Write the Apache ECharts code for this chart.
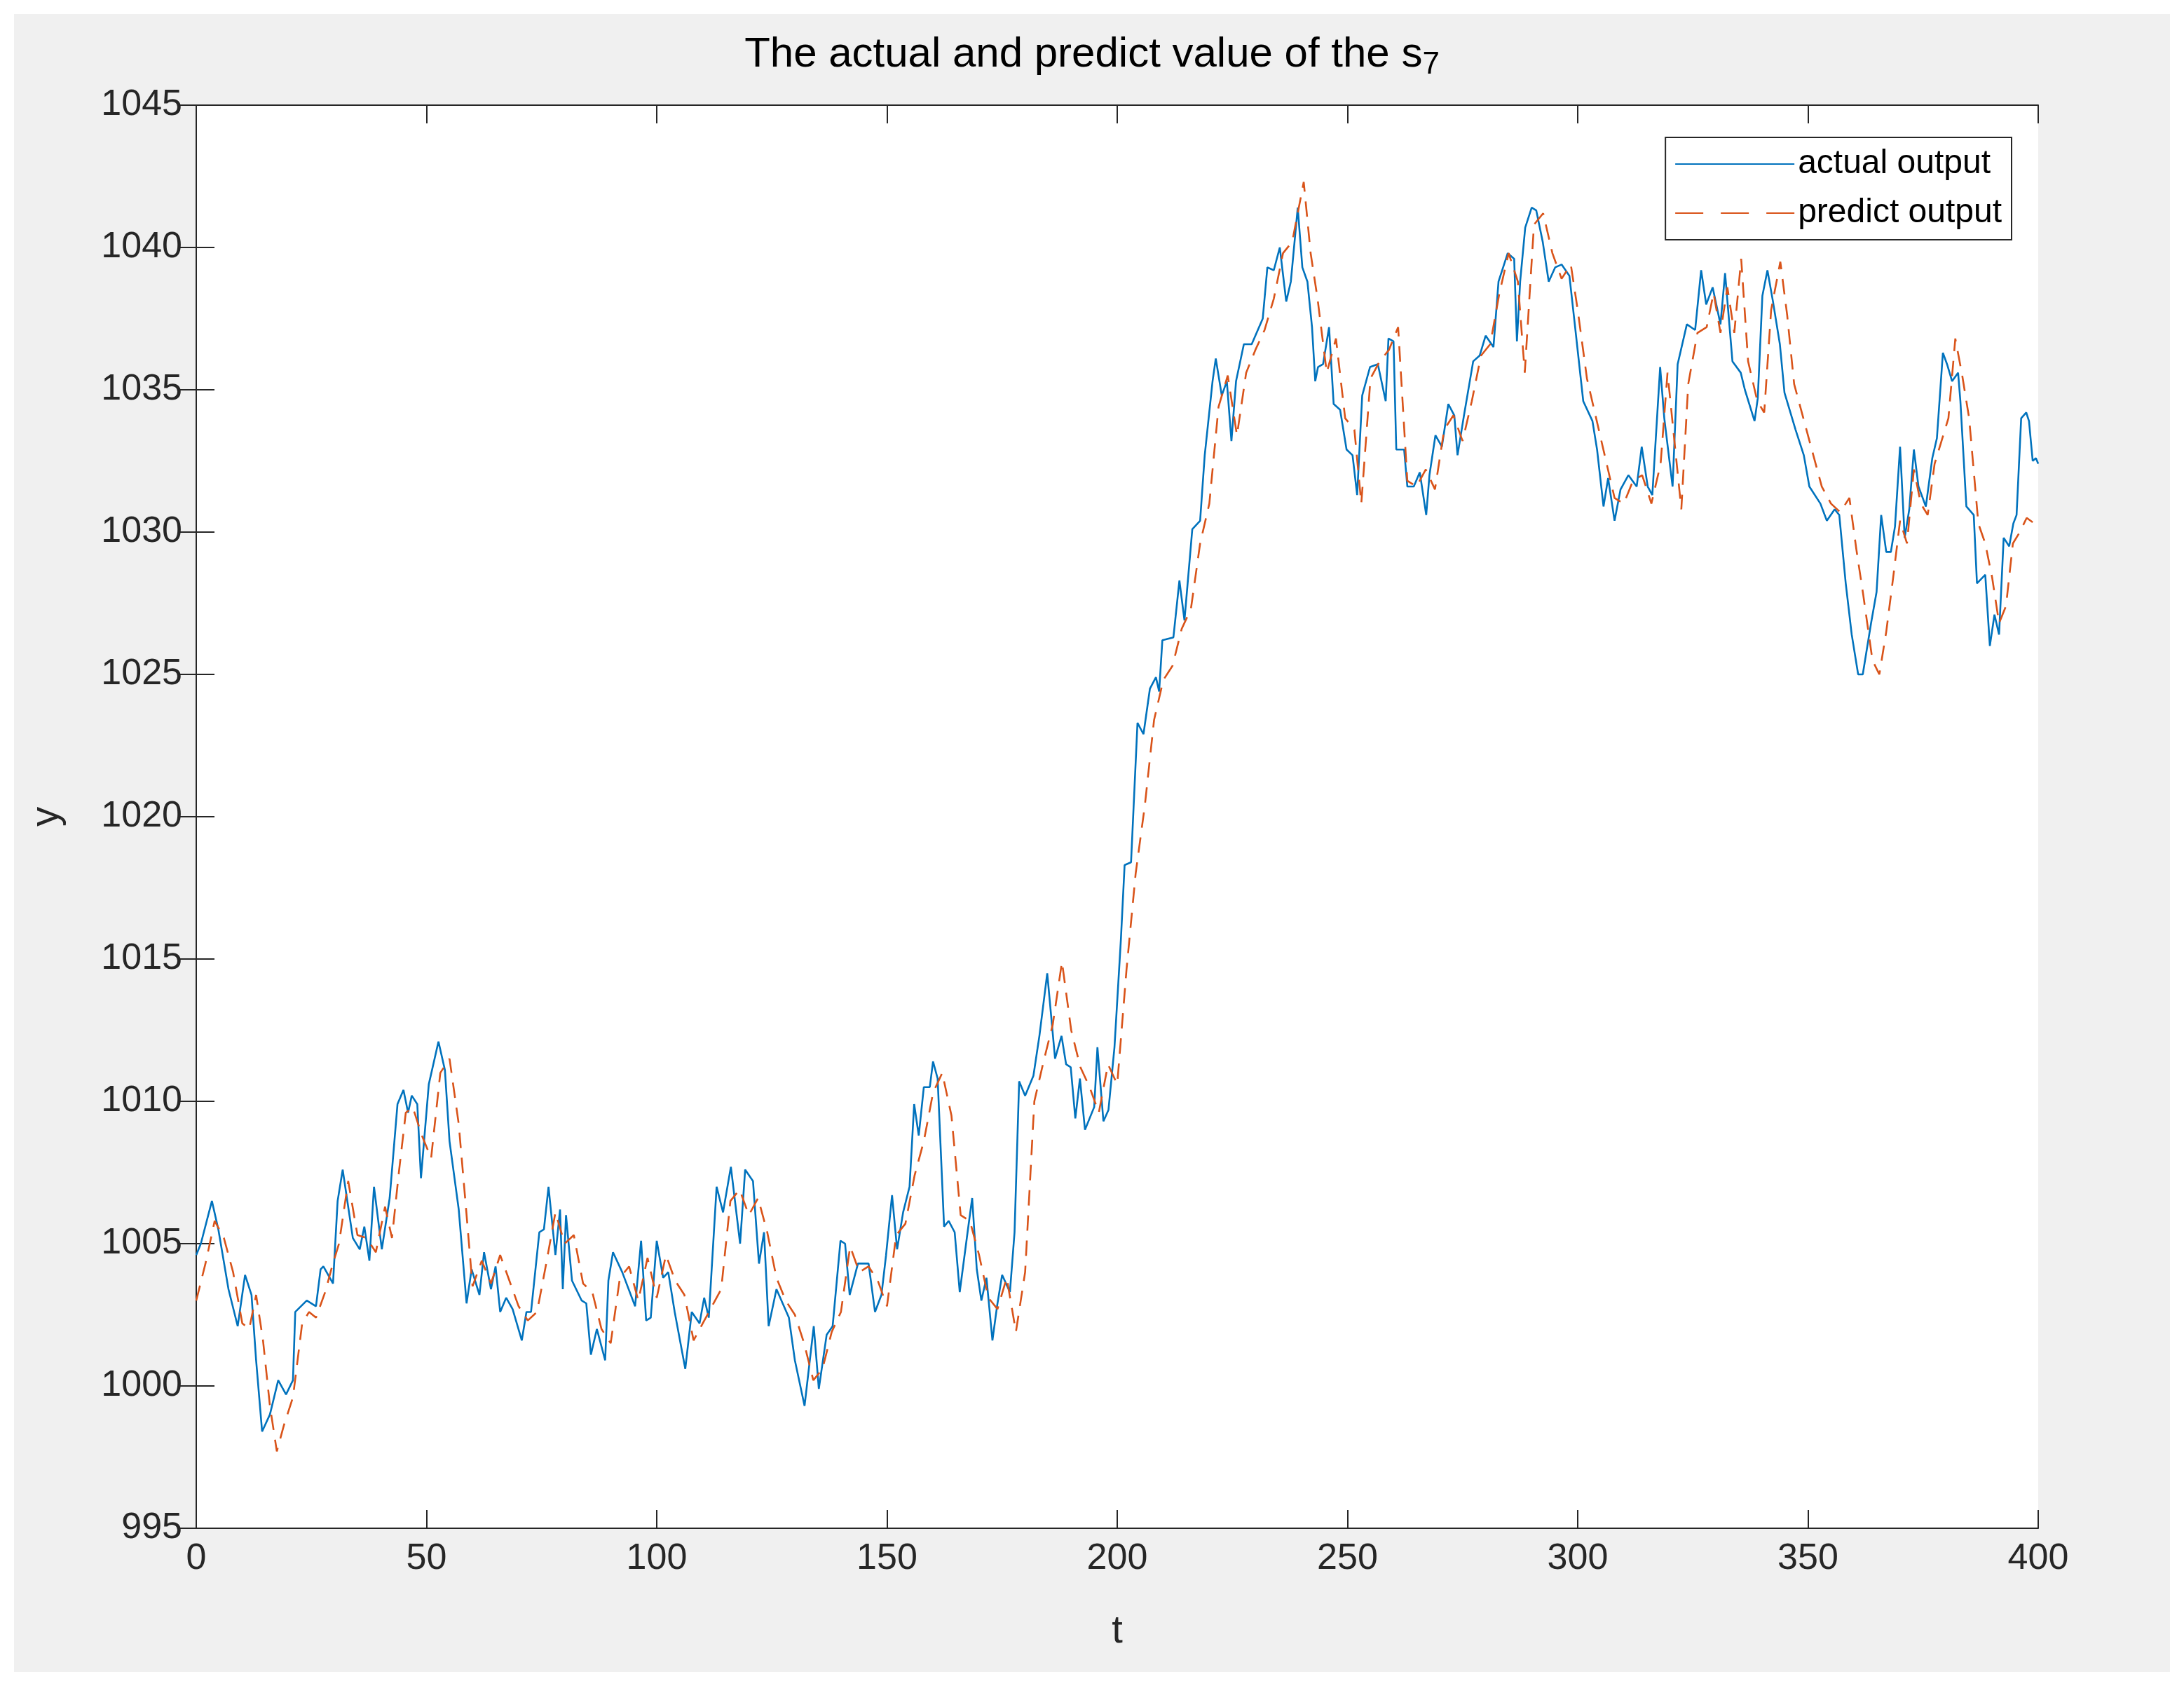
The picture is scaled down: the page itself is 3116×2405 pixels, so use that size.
<!DOCTYPE html>
<html>
<head>
<meta charset="utf-8">
<script src="https://cdn.jsdelivr.net/npm/echarts@6/dist/echarts.min.js"></script>
<style>
html, body { margin: 0; padding: 0; background: #ffffff; }
#chart { position: absolute; left: 20px; top: 20px; width: 3076px; height: 2365px; background: #f0f0f0; }
</style>
</head>
<body>
<div id="chart"></div>
<script>
var xTicks = [0, 50, 100, 150, 200, 250, 300, 350, 400];
var yTicks = [995, 1000, 1005, 1010, 1015, 1020, 1025, 1030, 1035, 1040, 1045];

// actual output (t, y)
var actualT = [0, 1, 3.4, 4.8, 7, 9, 10.6, 12, 13, 14.3, 16, 17.8, 19.5, 21, 21.5, 24, 26, 27, 27.6, 29.7,
    30.7, 31.8, 34, 35.5, 36.5, 37.6, 38.6, 40.3, 42, 43.7, 45, 46, 46.8, 48, 48.8, 50.5, 52.6, 54, 55, 57,
    58.7, 59.8, 61.5, 62.5, 64, 65, 66, 67.3, 68.7, 70.7, 71.7, 72.7, 74.5, 75.5, 76.5, 78, 79, 79.6, 80.3, 81.6,
    83.7, 84.7, 85.7, 87, 88.8, 89.5, 90.5, 92.5, 95.3, 96.6, 97.7, 98.7, 100, 101.4, 102.5, 103.9, 106.2, 107.6, 109.3, 110.3,
    111.3, 113, 114.4, 116.1, 118.1, 119.2, 120.9, 122.2, 123.3, 124.3, 126, 128.7, 130, 132.1, 134.1, 135.2, 136.9, 138.2, 139.9, 140.9,
    141.9, 143.7, 146, 147.4, 148.8, 149.8, 151.1, 152.2, 153.5, 154.9, 155.9, 156.9, 158, 159.3, 160, 161, 162.4, 163.4, 164.7, 165.8,
    167.5, 168.5, 169.5, 170.5, 171.6, 172.9, 173.9, 175, 176.7, 177.7, 178.7, 180, 181.8, 183.1, 184.8, 186.5, 187.9, 188.9, 189.9, 190.9,
    191.9, 193, 195, 195.7, 197, 198.1, 199.4, 200.8, 201.6, 203, 204.4, 205.7, 207.1, 208.4, 209.1, 209.8, 212.2, 213.5, 214.6, 216.3,
    218, 219, 220.7, 221.4, 222.7, 223.8, 224.8, 225.8, 227.5, 229.2, 231.6, 232.6, 234, 235.3, 236.7, 237.7, 239.2, 240.2, 241.3, 242.3,
    243, 243.6, 244.7, 246, 247, 248.4, 249.8, 251.1, 252.1, 253.2, 254.9, 256.6, 258.3, 258.9, 260, 260.6, 262.3, 263, 264.4, 265.7,
    267.1, 267.8, 269.1, 270.5, 271.9, 273.2, 273.9, 275.3, 277.3, 278.7, 280, 281.7, 282.8, 284.8, 286.2, 286.8, 287.5, 288.6, 290, 291,
    292.4, 293.7, 295.1, 296.5, 298.2, 299.3, 301.2, 303.2, 304.2, 305.6, 306.6, 308, 309.3, 311, 312.8, 313.9, 315.2, 316.2, 317.9, 318.8,
    320.6, 321.7, 323.7, 325.5, 326.8, 327.9, 329.3, 331, 332, 333.6, 335.4, 336.3, 338.4, 339.1, 340.1, 341.2, 342.4, 343.9, 344.9, 347.3,
    349.1, 350.3, 352.7, 354.1, 355.8, 356.8, 358.2, 359.5, 360.9, 361.9, 363.7, 364.9, 365.9, 367, 368, 368.9, 370, 371, 372, 373,
    374, 375.6, 377, 378, 379.3, 380.2, 381.3, 382.6, 383.1, 384.4, 386, 386.7, 388.5, 389.5, 390.5, 391.5, 392.5, 393.7, 394.6, 395.3,
    396.3, 397.4, 398, 398.8, 399.5, 400];
var actualY = [1004.6, 1005.0, 1006.5, 1005.5, 1003.4, 1002.1, 1003.9, 1003.2, 1000.9, 998.4, 999.0, 1000.2, 999.7, 1000.2, 1002.6, 1003.0, 1002.8, 1004.1, 1004.2, 1003.6,
    1006.5, 1007.6, 1005.2, 1004.8, 1005.6, 1004.4, 1007.0, 1004.8, 1006.6, 1009.9, 1010.4, 1009.6, 1010.2, 1009.9, 1007.3, 1010.6, 1012.1, 1011.1, 1008.6, 1006.2,
    1002.9, 1004.1, 1003.2, 1004.7, 1003.4, 1004.2, 1002.6, 1003.1, 1002.7, 1001.6, 1002.6, 1002.6, 1005.4, 1005.5, 1007.0, 1004.6, 1006.2, 1003.4, 1006.0, 1003.7,
    1003.0, 1002.9, 1001.1, 1002.0, 1000.9, 1003.7, 1004.7, 1004.0, 1002.8, 1005.1, 1002.3, 1002.4, 1005.1, 1003.8, 1004.0, 1002.6, 1000.6, 1002.6, 1002.2, 1003.1,
    1002.4, 1007.0, 1006.1, 1007.7, 1005.0, 1007.6, 1007.2, 1004.3, 1005.4, 1002.1, 1003.4, 1002.4, 1000.9, 999.3, 1002.1, 999.9, 1001.8, 1002.1, 1005.1, 1005.0,
    1003.2, 1004.3, 1004.3, 1002.6, 1003.2, 1004.6, 1006.7, 1004.8, 1006.1, 1007.0, 1009.9, 1008.8, 1010.5, 1010.5, 1011.4, 1010.8, 1005.6, 1005.8, 1005.4, 1003.3,
    1005.4, 1006.6, 1004.1, 1003.0, 1003.8, 1001.6, 1002.8, 1003.9, 1003.3, 1005.4, 1010.7, 1010.2, 1010.9, 1012.3, 1014.5, 1011.5, 1012.3, 1011.3, 1011.2, 1009.4,
    1010.8, 1009.0, 1009.8, 1011.9, 1009.3, 1009.7, 1011.9, 1015.7, 1018.3, 1018.4, 1023.3, 1022.9, 1024.5, 1024.9, 1024.4, 1026.2, 1026.3, 1028.3, 1026.9, 1030.1,
    1030.4, 1032.7, 1035.3, 1036.1, 1034.8, 1035.3, 1033.2, 1035.3, 1036.6, 1036.6, 1037.5, 1039.3, 1039.2, 1040.0, 1038.1, 1038.8, 1041.4, 1039.3, 1038.8, 1037.2,
    1035.3, 1035.8, 1035.9, 1037.2, 1034.5, 1034.3, 1032.9, 1032.7, 1031.3, 1034.8, 1035.8, 1035.9, 1034.6, 1036.8, 1036.7, 1032.9, 1032.9, 1031.6, 1031.6, 1032.1,
    1030.6, 1032.0, 1033.4, 1033.0, 1034.5, 1034.1, 1032.7, 1034.1, 1036.0, 1036.2, 1036.9, 1036.5, 1038.8, 1039.8, 1039.6, 1036.7, 1038.8, 1040.7, 1041.4, 1041.3,
    1040.2, 1038.8, 1039.3, 1039.4, 1039.0, 1037.4, 1034.6, 1033.9, 1032.9, 1030.9, 1031.9, 1030.4, 1031.5, 1032.0, 1031.6, 1033.0, 1031.6, 1031.3, 1035.8, 1034.0,
    1031.6, 1035.9, 1037.3, 1037.1, 1039.2, 1038.0, 1038.6, 1037.3, 1039.1, 1036.0, 1035.6, 1035.0, 1033.9, 1034.7, 1038.3, 1039.2, 1038.1, 1036.6, 1034.9, 1033.6,
    1032.7, 1031.6, 1031.0, 1030.4, 1030.8, 1030.6, 1028.2, 1026.4, 1025.0, 1025.0, 1026.8, 1027.9, 1030.6, 1029.3, 1029.3, 1030.2, 1033.0, 1029.8, 1030.8, 1032.9,
    1031.6, 1030.9, 1032.6, 1033.3, 1036.3, 1035.9, 1035.3, 1035.6, 1034.6, 1030.9, 1030.6, 1028.2, 1028.5, 1026.0, 1027.1, 1026.4, 1029.8, 1029.5, 1030.3, 1030.6,
    1034.0, 1034.2, 1033.9, 1032.5, 1032.6, 1032.4];

// predict output (t, y)
var predictT = [0, 2, 4, 6, 8, 10, 11.5, 13, 14.5, 16, 17.5, 19, 21, 23, 24.5, 26, 28, 29.5, 31, 33,
    35, 37, 39, 41, 42.5, 44, 45.5, 47, 49, 51, 53, 55, 57, 58.5, 60, 62, 64, 66, 68, 70,
    72, 74, 76, 78, 80, 82, 84, 86, 88, 90, 92, 94, 96, 98, 100, 102, 104, 106, 108, 110,
    112, 114, 116, 118, 120, 122, 124, 126, 128, 130, 132, 134, 136, 138, 140, 142, 144, 146, 148, 150,
    152, 154, 156, 158, 160, 162, 164, 166, 168, 170, 172, 174, 176, 178, 180, 182, 184, 186, 188, 190,
    192, 194, 196, 198, 200, 202, 204, 206, 208, 210, 212, 214, 216, 218, 220, 222, 224, 226, 228, 230,
    232, 234, 236, 238, 240.5, 242, 243.5, 245.5, 247.5, 249.5, 251.5, 253, 255, 257, 259, 261, 263, 265, 267, 269,
    271, 273, 275, 277, 279, 281, 283, 285, 287, 288.5, 290.5, 292.5, 294.5, 296.5, 298.5,
    300, 302, 304, 306, 308, 310, 312, 314, 316, 318, 319.5, 321, 322.5, 324, 326, 328, 329.5, 331, 332.5, 334,
    335.5, 337, 339, 340.5, 342, 344, 345.5, 347, 349, 351, 353, 355, 357, 359, 360.5, 362, 364, 365.5, 367, 368.5,
    370, 371.5, 373, 374.5, 376, 377.5, 379, 380.5, 382, 383.5, 385, 387, 388.5, 390, 391.5, 393, 394.5, 396, 397.5, 400];
var predictY = [1003.0, 1004.3, 1005.8, 1005.2, 1004.0, 1002.2, 1002.0, 1003.2, 1001.6, 999.3, 997.7, 998.6, 999.6, 1002.2, 1002.6, 1002.4, 1003.3, 1004.2, 1005.0, 1007.2,
    1005.3, 1005.2, 1004.7, 1006.3, 1005.2, 1007.5, 1009.6, 1009.8, 1008.8, 1008.0, 1011.0, 1011.5, 1009.2, 1006.4, 1003.5, 1004.4, 1003.6, 1004.6, 1003.7, 1002.8,
    1002.3, 1002.6, 1004.3, 1006.1, 1005.0, 1005.3, 1003.6, 1003.3, 1002.0, 1001.5, 1003.8, 1004.2, 1003.0, 1004.5, 1003.1, 1004.6, 1003.7, 1003.2, 1001.6, 1002.2,
    1002.8, 1003.4, 1006.5, 1006.9, 1006.0, 1006.6, 1005.4, 1003.8, 1003.0, 1002.5, 1001.5, 1000.2, 1000.6, 1001.9, 1002.6, 1004.9, 1004.0, 1004.2, 1003.7, 1002.8,
    1005.3, 1005.7, 1007.4, 1008.6, 1010.3, 1011.0, 1009.5, 1006.0, 1005.8, 1004.6, 1003.1, 1002.7, 1003.8, 1001.9, 1004.0, 1010.0, 1011.4, 1012.7, 1014.9, 1012.5,
    1011.2, 1010.5, 1009.6, 1011.3, 1010.6, 1014.6, 1018.0, 1020.4, 1023.4, 1024.8, 1025.3, 1026.6, 1027.3, 1029.6, 1031.0, 1034.4, 1035.5, 1033.4, 1035.6, 1036.4,
    1037.1, 1038.2, 1039.8, 1040.2, 1042.3, 1039.8, 1038.2, 1035.6, 1036.8, 1034.0, 1033.6, 1031.0, 1035.4, 1036.0, 1036.4, 1037.2, 1031.8, 1031.6, 1032.2, 1031.5,
    1033.6, 1034.1, 1033.2, 1034.6, 1036.2, 1036.6, 1038.4, 1039.8, 1038.8, 1035.6, 1040.8, 1041.2, 1039.8, 1038.9, 1039.4,
    1037.8, 1035.4, 1034.0, 1032.6, 1031.2, 1031.0, 1031.8, 1032.0, 1031.0, 1032.4, 1035.6, 1033.2, 1030.8, 1035.2, 1037.0, 1037.2, 1038.4, 1037.0, 1038.6, 1037.0,
    1039.6, 1036.0, 1034.6, 1034.2, 1037.8, 1039.5, 1037.6, 1035.2, 1034.0, 1032.8, 1031.6, 1031.0, 1030.7, 1031.2, 1029.4, 1027.8, 1025.5, 1025.0, 1026.5, 1028.4,
    1030.4, 1029.6, 1032.2, 1031.0, 1030.6, 1032.4, 1033.2, 1034.0, 1036.8, 1035.5, 1034.0, 1030.3, 1029.6, 1028.4, 1026.8, 1027.4, 1029.6, 1030.0, 1030.5, 1030.2];

function pairs(ts, ys) {
    var out = [];
    for (var i = 0; i < ts.length; i++) {
        out.push([ts[i], ys[i]]);
    }
    return out;
}

var fontName = 'Liberation Sans';
var axisLine = { show: true, lineStyle: { color: '#262626', width: 2 } };
var axisTick = { show: true, inside: true, length: 26, lineStyle: { color: '#262626', width: 2 } };

var myChart = echarts.init(document.getElementById('chart'));
var option = {
    backgroundColor: '#f0f0f0',
    animation: false,
    title: {
        text: 'The actual and predict value of the s{sub|7}',
        left: 'center',
        top: 16,
        textStyle: {
            fontFamily: fontName, fontWeight: 'normal', fontSize: 60, color: '#000000',
            rich: { sub: { fontFamily: fontName, fontSize: 44, color: '#000000', verticalAlign: 'bottom', padding: [30, 0, 0, 0] } }
        }
    },
    legend: {
        orient: 'vertical',
        right: 226,
        top: 176,
        backgroundColor: '#ffffff',
        borderColor: '#262626',
        borderWidth: 2,
        borderRadius: 0,
        padding: [14, 14, 14, 14],
        itemWidth: 170,
        itemHeight: 20,
        itemGap: 22,
        textStyle: { fontFamily: fontName, fontSize: 48, color: '#000000' },
        data: [
            { name: 'actual output', icon: 'path://M0,9 L170,9 L170,11 L0,11 Z' },
            { name: 'predict output', icon: 'path://M0,9 L40,9 L40,11 L0,11 Z M65,9 L105,9 L105,11 L65,11 Z M130,9 L170,9 L170,11 L130,11 Z' }
        ]
    },
    grid: { left: 260, right: 188, top: 130, bottom: 205, show: true, backgroundColor: '#ffffff', borderWidth: 0 },
    xAxis: [
        {
            type: 'value', min: 0, max: 400, interval: 50, position: 'bottom',
            name: 't', nameLocation: 'middle', nameGap: 120,
            nameTextStyle: { fontFamily: fontName, fontSize: 56, color: '#262626' },
            axisLine: axisLine, axisTick: axisTick, splitLine: { show: false },
            axisLabel: { fontFamily: fontName, fontSize: 52, color: '#262626', margin: 18,
                formatter: function (v) { return xTicks.indexOf(v) >= 0 ? String(v) : ''; } }
        },
        {
            type: 'value', min: 0, max: 400, interval: 50, position: 'top',
            axisLine: axisLine, axisTick: axisTick, splitLine: { show: false }, axisLabel: { show: false }
        }
    ],
    yAxis: [
        {
            type: 'value', min: 995, max: 1045, interval: 5, position: 'left',
            name: 'y', nameLocation: 'middle', nameGap: 185,
            nameTextStyle: { fontFamily: fontName, fontSize: 56, color: '#262626' },
            axisLine: axisLine, axisTick: axisTick, splitLine: { show: false },
            axisLabel: { fontFamily: fontName, fontSize: 52, color: '#262626', margin: 20,
                formatter: function (v) { return yTicks.indexOf(v) >= 0 ? String(v) : ''; } }
        },
        {
            type: 'value', min: 995, max: 1045, interval: 5, position: 'right',
            axisLine: axisLine, axisTick: axisTick, splitLine: { show: false }, axisLabel: { show: false }
        }
    ],
    series: [
        {
            name: 'actual output', type: 'line', showSymbol: false, symbol: 'none',
            itemStyle: { color: '#0072BD' },
            lineStyle: { color: '#0072BD', width: 2.6 },
            data: pairs(actualT, actualY)
        },
        {
            name: 'predict output', type: 'line', showSymbol: false, symbol: 'none',
            itemStyle: { color: '#D95319' },
            lineStyle: { color: '#D95319', width: 2.6, type: [22, 14] },
            data: pairs(predictT, predictY)
        }
    ]
};
myChart.setOption(option);
</script>
</body>
</html>
